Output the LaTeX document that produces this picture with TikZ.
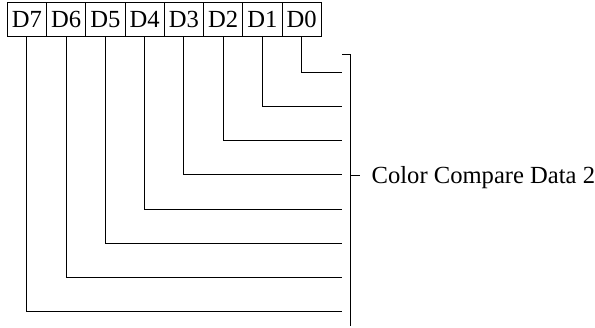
\documentclass[tikz,border=0pt]{standalone}
\usepackage{fontspec}
\setmainfont{Liberation Serif}
\usetikzlibrary{positioning}

\begin{document}
\begin{tikzpicture}[x=1pt, y=-1pt,
  bit/.style={rectangle, draw, line width=1pt, minimum width=39.25pt,
              minimum height=34pt, inner sep=0pt, outer sep=0pt,
              font=\fontsize{24.6}{29}\selectfont},
  wire/.style={line width=1pt},
  lbl/.style={font=\fontsize{24.6}{29}\selectfont, anchor=base west, inner sep=0pt},
]
\useasboundingbox (0,0) rectangle (595,327);
\node[bit] (d7) at (26.9,19.7) {D7};
\node[bit, right=0pt of d7] (d6) {D6};
\node[bit, right=0pt of d6] (d5) {D5};
\node[bit, right=0pt of d5] (d4) {D4};
\node[bit, right=0pt of d4] (d3) {D3};
\node[bit, right=0pt of d3] (d2) {D2};
\node[bit, right=0pt of d2] (d1) {D1};
\node[bit, right=0pt of d1] (d0) {D0};
% one wire per bit
\foreach \i in {0,...,7} {
  \coordinate (e\i) at (342, 72.3+34.2*\i);
  \draw[wire] (d\i.south) |- (e\i);
}
% brace
\coordinate (tk) at (342.3,54.3);
\coordinate (bt) at (350,54.3);
\coordinate (bb) at (350,326);
\coordinate (bm) at (350,175);
\coordinate (bmt) at (360,175);
\draw[wire] (tk) -- (bt) -- (bb);
\draw[wire] (bm) -- (bmt);
\node[lbl] (cc) at (371.5,183.3) {Color Compare Data 2};
\end{tikzpicture}
\end{document}
